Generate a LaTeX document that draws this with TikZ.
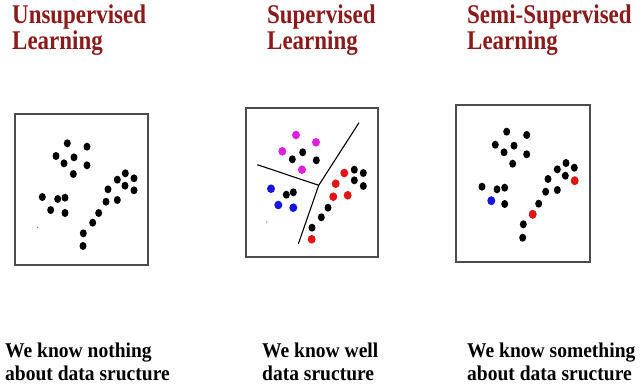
\documentclass[tikz,border=0pt]{standalone}
\usepackage{fontspec}
\setmainfont{Liberation Serif}
\newfontfamily\titlefont[FakeStretch=0.85]{Liberation Serif}
\newfontfamily\capfont[FakeStretch=0.93]{Liberation Serif}
\definecolor{titlered}{HTML}{8B1A1A}
\definecolor{dmag}{HTML}{E020E0}
\definecolor{dblue}{HTML}{1515E0}
\definecolor{dred}{HTML}{E01515}
\begin{document}
\begin{tikzpicture}[x=1pt,y=-1pt,
  title/.style={anchor=north west,inner sep=0pt,align=left,text=titlered,
    font=\titlefont\bfseries\fontsize{27}{24}\selectfont},
  caption/.style={anchor=north west,inner sep=0pt,align=left,text=black,
    font=\capfont\bfseries\fontsize{21}{23}\selectfont},
  panel/.style={draw=black!70,line width=1.3pt},
  sep/.style={draw=black,line width=1.1pt}]
\useasboundingbox (0,0) rectangle (640,386);
% titles
\node[title] (t1) at (12,5) {Unsupervised\\Learning};
\node[title] (t2) at (267,5) {Supervised\\Learning};
\node[title] (t3) at (467,5) {Semi-Supervised\\Learning};
% captions
\node[caption] (c1) at (5,343) {We know nothing\\about data sructure};
\node[caption] (c2) at (262,343) {We know well\\data sructure};
\node[caption] (c3) at (467,343) {We know something\\about data sructure};
% panels
\draw[panel] (15,114) rectangle (148,265);
\draw[panel] (246,108) rectangle (378,257);
\draw[panel] (456,105) rectangle (590,262);
% panel 1 dots
\foreach \x/\y in {67.3/143.3,87/146.7,56/156,74/157.3,64/163.3,87/165.3,73.3/174,
  125.3/173.3,117.3/179.7,134/178.3,125/185.7,108/189.3,134/190.3,42.3/197,57.7/199,
  65/197.7,106/201.7,117.3/200,50.7/210,65/213,98.7/213,92.7/222.7,83.3/233.3,83/246}
  \fill[black] (\x,\y) ellipse [x radius=3.5, y radius=4];
\fill[black!60] (37.7,227.3) circle [radius=0.6];
% panel 2 separators
\coordinate (j) at (318.7,185.3);
\coordinate (e1) at (257.3,164.7);
\coordinate (e2) at (359,122.7);
\coordinate (e3) at (298.3,244);
\draw[sep] (e1) -- (j) -- (e2);
\draw[sep] (j) -- (e3);
% panel 2 dots
\foreach \x/\y in {296/135,316/142.3,282.3/151.3,302/169.7}
  \fill[dmag] (\x,\y) ellipse [x radius=4, y radius=4.3];
\foreach \x/\y in {271/188.7,278.3/205,293.3/207.7}
  \fill[dblue] (\x,\y) ellipse [x radius=4, y radius=4.3];
\foreach \x/\y in {344.3/173,335.7/183.7,333.3/196.7,347.7/195.3,311.7/239.3}
  \fill[dred] (\x,\y) ellipse [x radius=4, y radius=4.3];
\foreach \x/\y in {302.7/152.3,292.3/159.3,316.3/160.3,286.3/194.7,293.3/192.3,
  354.3/169.7,363.3/173,354.3/180.3,363.3/186,328/207.7,321.3/217.3,312/227.7}
  \fill[black] (\x,\y) ellipse [x radius=3.5, y radius=4];
\fill[black!60] (266.7,222) circle [radius=0.6];
% panel 3 dots
\foreach \x/\y in {506.7/131.7,526.7/135,495.3/144.7,514/145.7,504/152.3,526.7/154.3,
  512.7/163.7,566/163,557.3/169.3,574.3/167.7,565.3/175.7,548/179,482/186.7,497/189.3,
  504.7/187.7,545.7/191.7,557.3/190,504.7/204,538.7/203.7,523.3/224.3,522.7/237.7}
  \fill[black] (\x,\y) ellipse [x radius=3.5, y radius=4];
\fill[dred] (574.7,180.7) ellipse [x radius=4, y radius=4.5];
\fill[dred] (532.7,214.3) ellipse [x radius=4, y radius=4.5];
\fill[dblue] (491.3,200.7) ellipse [x radius=4, y radius=4.5];
\end{tikzpicture}
\end{document}
